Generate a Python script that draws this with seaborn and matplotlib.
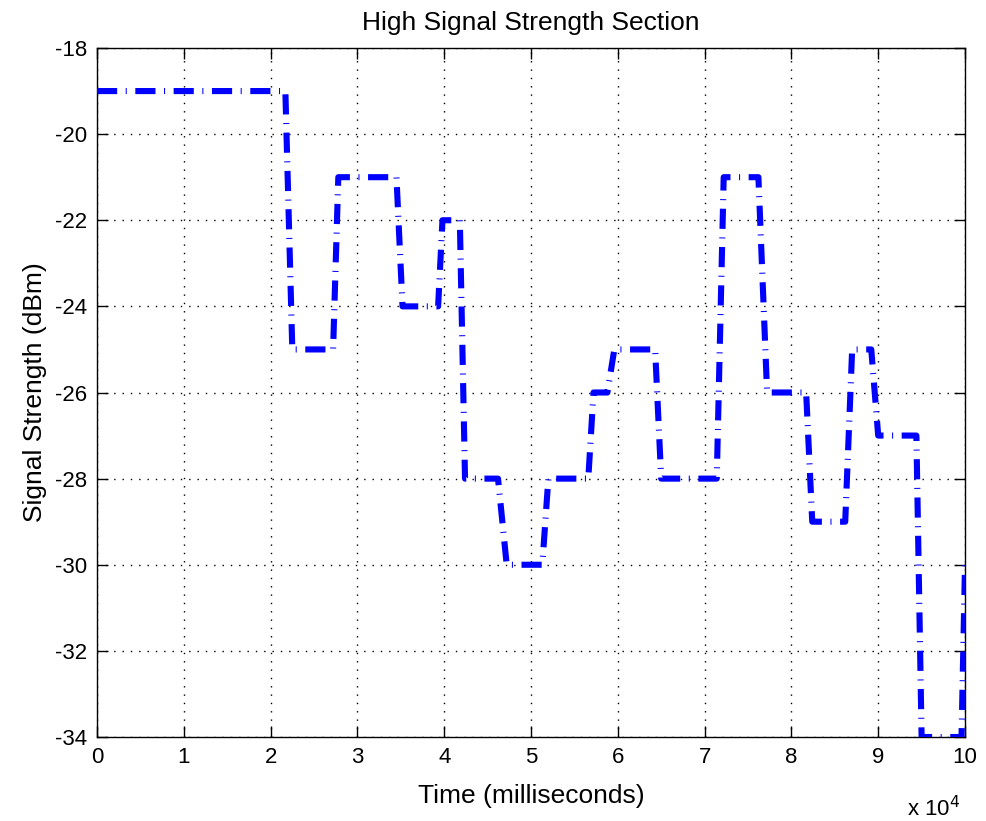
import matplotlib
matplotlib.use("Agg")
import matplotlib.pyplot as plt
import seaborn as sns
import pandas as pd

# Data (time in milliseconds, signal strength in dBm)
time_ms = [0, 21700, 22500, 27200, 27800, 34500, 35200, 39300, 39800, 41800,
           42400, 46200, 47200, 51300, 52000, 56600, 57200, 58800, 59600, 64300,
           65000, 71400, 72200, 76200, 77200, 81700, 82400, 86200, 87000, 89200,
           90000, 94400, 95000, 99600, 100000]
signal_dbm = [-19, -19, -25, -25, -21, -21, -24, -24, -22, -22,
              -28, -28, -30, -30, -28, -28, -26, -26, -25, -25,
              -28, -28, -21, -21, -26, -26, -29, -29, -25, -25,
              -27, -27, -34, -34, -30]
x_ticks = [0, 10000, 20000, 30000, 40000, 50000, 60000, 70000, 80000, 90000, 100000]
x_ticklabels = ["0", "1", "2", "3", "4", "5", "6", "7", "8", "9", "10"]
y_ticks = [-34, -32, -30, -28, -26, -24, -22, -20, -18]

df = pd.DataFrame({"Time": time_ms, "Signal": signal_dbm})

sns.set_style("white")
plt.rcParams["font.family"] = ["Liberation Sans", "DejaVu Sans"]
plt.rcParams["axes.unicode_minus"] = False
plt.rcParams["text.color"] = "black"
plt.rcParams["axes.labelcolor"] = "black"
plt.rcParams["xtick.color"] = "black"
plt.rcParams["ytick.color"] = "black"

fig = plt.figure(figsize=(9.87, 8.21), dpi=100)
fig.patch.set_facecolor("white")
ax = fig.add_axes([97 / 987, 1 - 737 / 821, (965 - 97) / 987, (737 - 48) / 821])
ax.set_facecolor("white")

sns.lineplot(data=df, x="Time", y="Signal", sort=False, estimator=None, ax=ax,
             color="#0000ff", linewidth=4.4,
             linestyle=(0, (3.3, 1.4, 0.17, 1.4)), zorder=3)
for l in ax.get_lines():
    l.set_dash_capstyle("butt")

ax.set_xlim(0, 100000)
ax.set_ylim(-34, -18)
ax.set_xticks(x_ticks)
ax.set_xticklabels(x_ticklabels)
ax.set_yticks(y_ticks)
ax.set_yticklabels([str(v) for v in y_ticks])

ax.grid(True, color="black", linewidth=1.0, linestyle=(0, (1, 5)), zorder=1)
for s in ax.spines.values():
    s.set_color("black")
    s.set_linewidth(1.0)
    s.set_visible(True)

ax.tick_params(axis="both", which="both", direction="in", length=8, width=1,
               top=True, right=True, bottom=True, left=True,
               labelsize=16, labelcolor="black", colors="black", pad=7)

ax.set_title("High Signal Strength Section", fontsize=19, pad=13, color="black")
ax.set_xlabel("Time (milliseconds)", fontsize=19, labelpad=12, color="black")
ax.set_ylabel("Signal Strength (dBm)", fontsize=19, labelpad=6, color="black")

fig.text(907 / 987, 1 - 816 / 821, "x 10$^{4}$", fontsize=16, ha="left",
         va="baseline", color="black")

fig.savefig("out.png", dpi=100, facecolor="white")
